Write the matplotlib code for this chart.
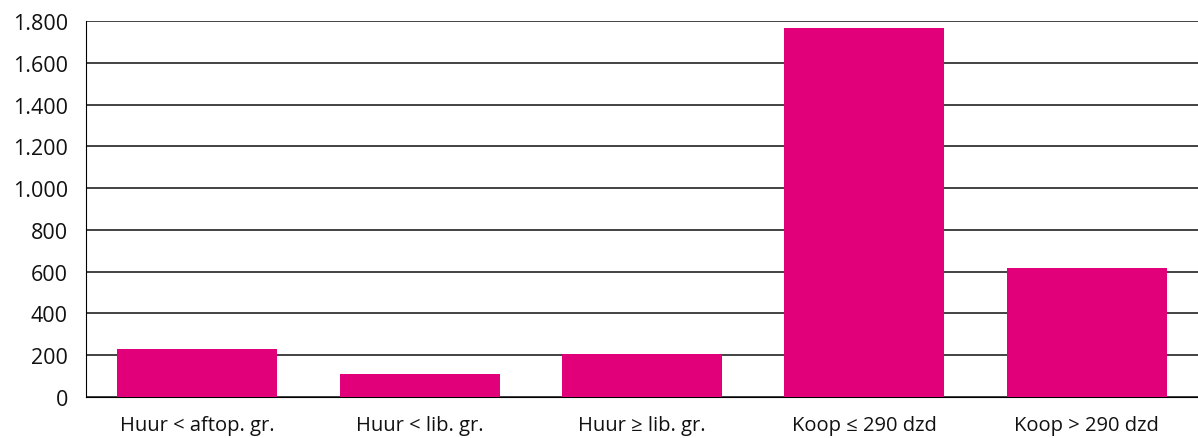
import matplotlib.pyplot as plt
from matplotlib.ticker import FuncFormatter

categorieen = ["Huur < aftop. gr.", "Huur < lib. gr.", "Huur ≥ lib. gr.",
               "Koop ≤ 290 dzd", "Koop > 290 dzd"]
aantallen = [230, 110, 205, 1766, 617]

plt.rcParams['font.family'] = ['Open Sans', 'DejaVu Sans']

fig = plt.figure(figsize=(11.98, 4.39), dpi=100)
ax = fig.add_axes([86 / 1198, 41 / 439, 1 - 86 / 1198, 376 / 439])

x = range(len(categorieen))
ax.bar(x, aantallen, width=0.72, color="#E2007A", zorder=3)

ax.set_xlim(-0.5, 4.5)
ax.set_ylim(0, 1800)
ax.set_yticks(range(0, 1801, 200))
ax.yaxis.set_major_formatter(FuncFormatter(lambda v, p: f"{int(v):,}".replace(",", ".")))
ax.set_xticks(list(x))
ax.set_xticklabels(categorieen, fontsize=14.5)
ax.grid(axis='y', color="#222222", linewidth=1.2, zorder=0)

for s in ['top', 'right']:
    ax.spines[s].set_visible(False)
ax.spines['left'].set_color('black')
ax.spines['bottom'].set_color('black')
ax.tick_params(axis='both', length=0, colors='#111111')
ax.tick_params(axis='y', pad=13, labelsize=15.5)
ax.tick_params(axis='x', pad=13)

fig.savefig("out.png", dpi=100)
